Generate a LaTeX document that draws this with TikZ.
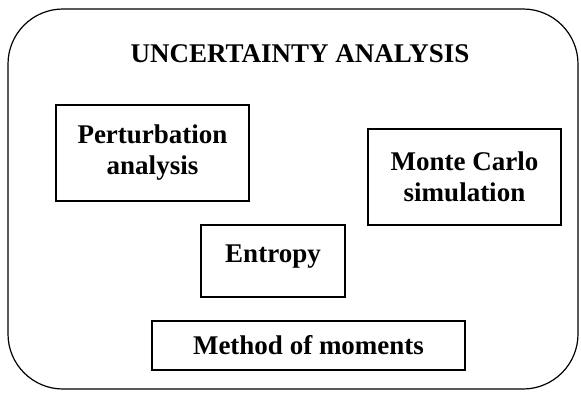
\documentclass[tikz,border=0pt]{standalone}
\usepackage{fontspec}
\setmainfont{Liberation Serif}
\usetikzlibrary{positioning}

\begin{document}
\begin{tikzpicture}[
    x=1pt, y=-1pt,
    frame/.style={draw, rounded corners=55pt, line width=1.2pt},
    method/.style={draw, line width=1.3pt, align=center, inner sep=0pt,
      font=\fontsize{27}{31}\selectfont\bfseries},
    title/.style={font=\fontsize{27}{31}\selectfont\bfseries, anchor=base},
]
  \useasboundingbox (0,0) rectangle (581,394);

  % outer frame and heading
  \node[frame, minimum width=570pt, minimum height=380pt] (frame) at (293,199) {};
  \node[title] (head) at (300,62) {UNCERTAINTY ANALYSIS};

  % the four methods
  \node[method, minimum width=193pt, minimum height=96pt] (pert) at (152.5,153) {Perturbation\\analysis};
  \node[method, minimum width=193pt, minimum height=96pt] (monte) at (464.5,177) {Monte Carlo\\simulation};
  \node[method, minimum width=144pt, minimum height=72pt, text height=17pt, text depth=15pt] (entropy) at (273,261) {Entropy};
  \node[method, minimum width=313pt, minimum height=49pt] (moments) at (308.5,345.5) {Method of moments};
\end{tikzpicture}
\end{document}
